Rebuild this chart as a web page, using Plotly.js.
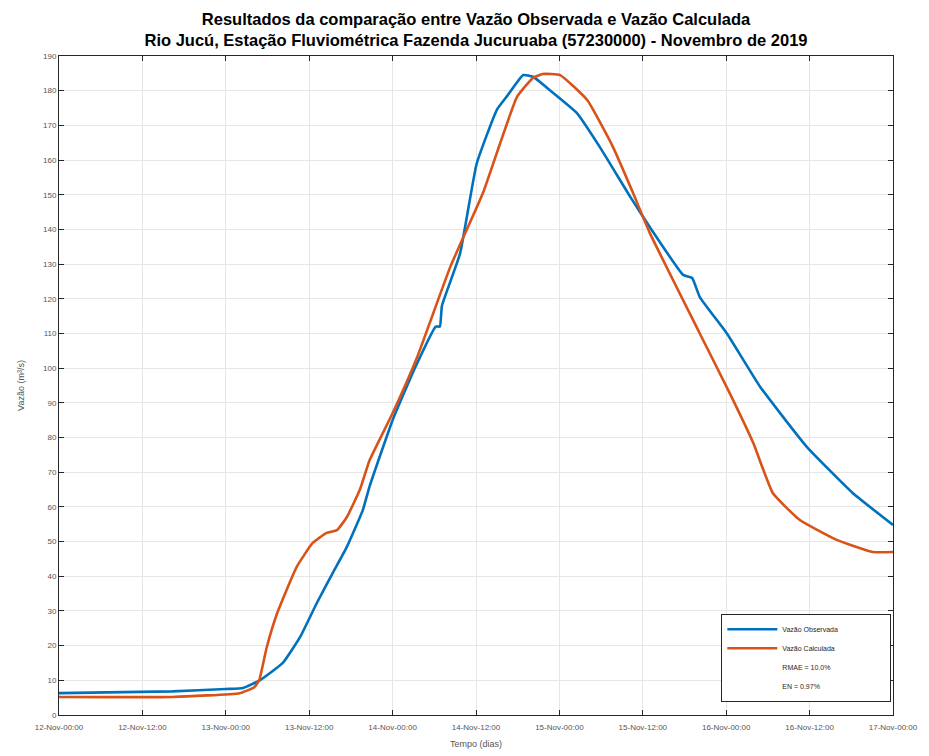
<!DOCTYPE html>
<html>
<head>
<meta charset="utf-8">
<script src="https://cdn.plot.ly/plotly-3.0.1.min.js"></script>
<style>html,body{margin:0;padding:0;background:#fff;}#chart{width:929px;height:756px;}</style>
</head>
<body>
<div id="chart"></div>
<script>
// hours after 12-Nov-2019 00:00
const obsHours = [0, 16.3, 24, 26.5, 28.9, 32.2, 34.7, 37.1, 39.4, 41.4, 43.7, 44.7, 48, 51.2, 54.2, 54.8, 55.1, 57.7, 60.1, 63, 64.5, 66.8, 68.2, 70.6, 74.5, 77.8, 82.2, 85, 89.8, 91.1, 92.2, 96.1, 100.9, 107.6, 114.2, 120];
const obsFlow  = [6.3, 6.8, 7.5, 7.8, 10, 15, 22.5, 32.3, 41, 48.4, 59, 66, 85, 100, 112, 112, 118, 133, 159, 174.5, 178.5, 184.5, 184, 180.2, 173.6, 163.8, 149.4, 140.7, 126.9, 126, 120.5, 110, 94.6, 77.3, 64, 54.8];
const calcHours = [0, 16.3, 26, 28.1, 28.8, 29.9, 31.4, 34.2, 36.5, 38.5, 40, 41.4, 43.3, 44.7, 48, 51.5, 56.3, 61, 63.5, 65.9, 68.2, 69.6, 72.1, 76, 79.7, 82.6, 85, 92.2, 96.5, 99.9, 102.7, 106.6, 111.9, 117.1, 120];
const calcFlow  = [5.2, 5.2, 6.3, 8, 10, 19.6, 29.4, 42.7, 49.6, 52.5, 53.3, 57, 65, 73.5, 87, 103, 129.2, 150.5, 165, 178.2, 183.7, 184.8, 184.5, 177.3, 163.8, 150.5, 139, 110, 92.8, 78.4, 64, 56.2, 50.5, 47, 47];
const tickLabels = ["12-Nov-00:00","12-Nov-12:00","13-Nov-00:00","13-Nov-12:00","14-Nov-00:00","14-Nov-12:00","15-Nov-00:00","15-Nov-12:00","16-Nov-00:00","16-Nov-12:00","17-Nov-00:00"];
const tickHours = [0, 12, 24, 36, 48, 60, 72, 84, 96, 108, 120];
const seriesNames = ["Vazão Observada", "Vazão Calculada"];
const statsText = ["RMAE = 10.0%", "EN = 0.97%"];

const base = Date.UTC(2019, 10, 12, 0, 0);
function toDate(h) {
  const d = new Date(base + h * 3600000);
  return d.toISOString().slice(0, 19).replace('T', ' ');
}
const pad = '\u00a0'.repeat(24);

const traces = [
  {x: obsHours.map(toDate), y: obsFlow, type: 'scatter', mode: 'lines', name: seriesNames[0] + pad,
   line: {color: '#0072BD', width: 2.6, shape: 'spline', smoothing: 0.4}},
  {x: calcHours.map(toDate), y: calcFlow, type: 'scatter', mode: 'lines', name: seriesNames[1],
   line: {color: '#D95319', width: 2.6, shape: 'spline', smoothing: 0.4}},
  {x: [null], y: [null], type: 'scatter', mode: 'lines', name: statsText[0], line: {color: 'rgba(0,0,0,0)', width: 0}},
  {x: [null], y: [null], type: 'scatter', mode: 'lines', name: statsText[1], line: {color: 'rgba(0,0,0,0)', width: 0}}
];

const layout = {
  width: 929, height: 756,
  margin: {l: 59, r: 36, t: 56, b: 41},
  paper_bgcolor: '#fff', plot_bgcolor: '#fff',
  font: {family: 'Liberation Sans, Arial, sans-serif', color: '#262626', size: 8},
  title: {text: '<b>Resultados da comparação entre Vazão Observada e Vazão Calculada</b><br><b>Rio Jucú, Estação Fluviométrica Fazenda Jucuruaba (57230000) - Novembro de 2019</b>',
          font: {size: 16.5, color: '#000', family: 'Liberation Sans, Arial, sans-serif'},
          x: 0.5, xanchor: 'center', xref: 'paper', yref: 'container', y: 0.967, yanchor: 'middle'},
  xaxis: {type: 'date', range: [toDate(0), toDate(120)],
          tickvals: tickHours.map(toDate), ticktext: tickLabels,
          showgrid: true, gridcolor: '#e6e6e6', gridwidth: 1,
          showline: true, linecolor: '#262626', linewidth: 1, mirror: 'ticks',
          ticks: 'inside', ticklen: 5, tickcolor: '#262626', ticklabelstandoff: 4,
          tickfont: {size: 8, color: '#555'}, zeroline: false,
          title: {text: 'Tempo (dias)', font: {size: 9, color: '#555'}, standoff: 10}},
  yaxis: {range: [0, 190], dtick: 10, tick0: 0,
          showgrid: true, gridcolor: '#e6e6e6', gridwidth: 1,
          showline: true, linecolor: '#262626', linewidth: 1, mirror: 'ticks',
          ticks: 'inside', ticklen: 5, tickcolor: '#262626',
          tickfont: {size: 8, color: '#555'}, zeroline: false,
          title: {text: 'Vazão (m³/s)', font: {size: 9, color: '#555'}, standoff: 16}},
  legend: {x: 0.998, xanchor: 'right', y: 0.02, yanchor: 'bottom',
           bgcolor: '#fff', bordercolor: '#262626', borderwidth: 1,
           font: {size: 7, color: '#262626'}, itemwidth: 50, tracegroupgap: 0},
  showlegend: true
};

Plotly.newPlot('chart', traces, layout, {staticPlot: true});
</script>
</body>
</html>
